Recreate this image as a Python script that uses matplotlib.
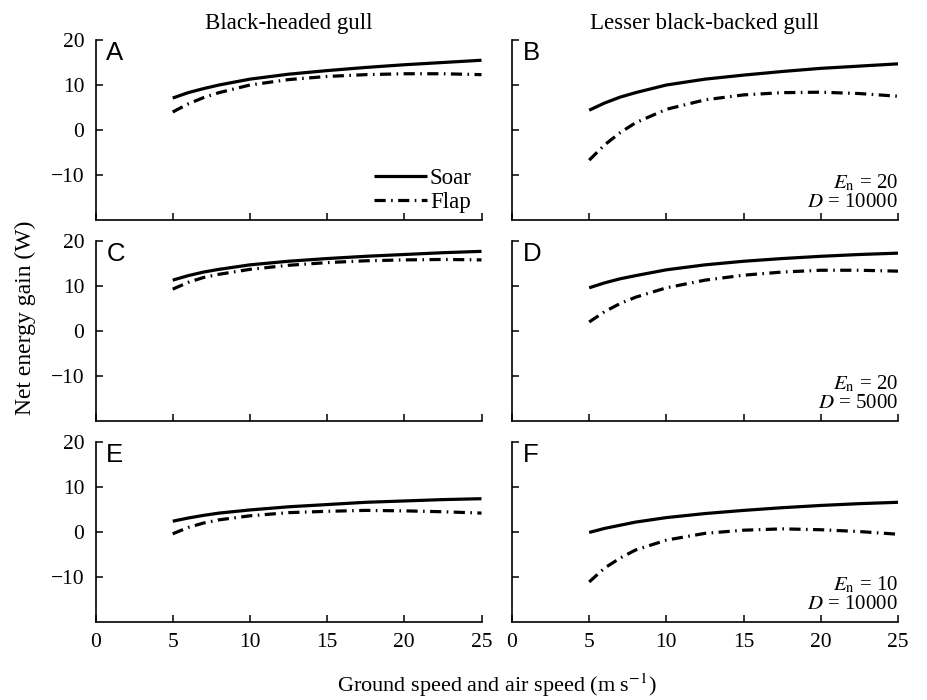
import matplotlib
matplotlib.use("Agg")
import matplotlib.pyplot as plt

plt.rcParams['font.family'] = ['Liberation Serif', 'DejaVu Serif']
plt.rcParams['mathtext.fontset'] = 'stix'

speed = [5, 6, 7, 8, 10, 12.5, 15, 17.5, 20, 22.5, 25]

a_soar = [7.1, 8.3, 9.2, 10.0, 11.3, 12.4, 13.2, 13.9, 14.5, 15.0, 15.5]
a_flap = [4.0, 5.8, 7.2, 8.3, 10.0, 11.2, 11.9, 12.3, 12.5, 12.5, 12.3]
b_soar = [4.4, 6.0, 7.3, 8.3, 10.0, 11.3, 12.2, 13.0, 13.7, 14.2, 14.7]
b_flap = [-6.7, -3.3, -0.6, 1.6, 4.6, 6.7, 7.8, 8.3, 8.4, 8.1, 7.5]
c_soar = [11.3, 12.3, 13.1, 13.7, 14.7, 15.5, 16.1, 16.6, 17.0, 17.4, 17.7]
c_flap = [9.3, 10.8, 11.9, 12.6, 13.7, 14.6, 15.2, 15.6, 15.8, 15.9, 15.8]
d_soar = [9.6, 10.7, 11.6, 12.3, 13.6, 14.7, 15.5, 16.1, 16.6, 17.0, 17.3]
d_flap = [2.0, 4.3, 6.1, 7.5, 9.6, 11.3, 12.4, 13.1, 13.5, 13.5, 13.3]
e_soar = [2.4, 3.1, 3.7, 4.2, 4.9, 5.6, 6.1, 6.6, 6.9, 7.2, 7.4]
e_flap = [-0.4, 1.0, 2.0, 2.7, 3.6, 4.3, 4.6, 4.8, 4.7, 4.5, 4.2]
f_soar = [-0.1, 0.8, 1.5, 2.2, 3.2, 4.1, 4.8, 5.4, 5.9, 6.3, 6.6]
f_flap = [-11.1, -8.0, -5.8, -4.0, -1.8, -0.3, 0.4, 0.7, 0.5, 0.1, -0.5]

panels = [
    ('A', a_soar, a_flap, None),
    ('B', b_soar, b_flap, ('20', '10000')),
    ('C', c_soar, c_flap, None),
    ('D', d_soar, d_flap, ('20', '5000')),
    ('E', e_soar, e_flap, None),
    ('F', f_soar, f_flap, ('10', '10000')),
]

col_titles = ['Black-headed gull', 'Lesser black-backed gull']
xticks = [0, 5, 10, 15, 20, 25]
yticks = [-10, 0, 10, 20]

W, H = 927, 700
fig = plt.figure(figsize=(W / 100, H / 100), dpi=100)

lefts = [95.5, 512]
width = 386
tops = [40, 241, 442]
height = 180

for i, (letter, soar, flap, ann) in enumerate(panels):
    r, c = divmod(i, 2)
    ax = fig.add_axes([lefts[c] / W, 1 - (tops[r] + height) / H, width / W, height / H])
    ax.plot(speed, soar, color='black', lw=2.3, solid_capstyle='butt', label='Soar')
    ln, = ax.plot(speed, flap, color='black', lw=2.3, label='Flap')
    ln.set_dashes([3.5, 1.7, 0.5, 1.7])
    ax.set_xlim(0, 25)
    ax.set_ylim(-20, 20)
    ax.set_xticks(xticks)
    ax.set_yticks(yticks)
    for s in ['top', 'right']:
        ax.spines[s].set_visible(False)
    for s in ['left', 'bottom']:
        ax.spines[s].set_linewidth(1.2)
    ax.tick_params(direction='in', length=5, width=1.1, labelsize=15.5, pad=8)
    if c == 1:
        ax.tick_params(labelleft=False)
    if r < 2:
        ax.tick_params(labelbottom=False)
    ax.text(0.028, 0.995, letter, transform=ax.transAxes, ha='left', va='top',
            fontsize=18.5, family=['Liberation Sans', 'DejaVu Sans'])
    if r == 0:
        ax.set_title(col_titles[c], fontsize=16.5, pad=8)
    if ann is not None:
        ax.text(1.0, 0.045, r'$E_{\mathrm{n}}$ = ' + ann[0] + '\n' + r'$D$ = ' + ann[1],
                transform=ax.transAxes, ha='right', va='bottom', fontsize=15,
                linespacing=1.0)
    if letter == 'A':
        ax.legend(loc='lower right', frameon=False, fontsize=16.5, handlelength=2.3,
                  handletextpad=0.15, borderaxespad=0.0, labelspacing=0.1,
                  borderpad=0.0, bbox_to_anchor=(0.975, 0.04))

fig.text(25 / W, 1 - 318 / H, 'Net energy gain (W)', rotation=90, ha='center',
         va='center', fontsize=17)
fig.text(497 / W, 1 - 685 / H, r'Ground speed and air speed (m s$^{-1}$)',
         ha='center', va='center', fontsize=16)

fig.savefig('out.png', dpi=100)
